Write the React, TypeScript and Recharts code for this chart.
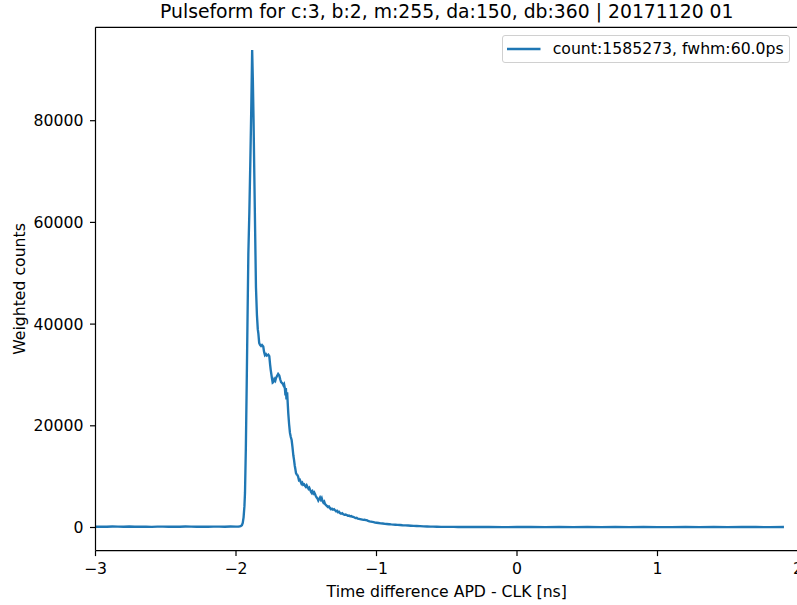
import React from 'react'
import { LineChart, Line, XAxis, YAxis, ReferenceLine, Legend } from 'recharts'

const FONT = '"DejaVu Sans", sans-serif'
const BLUE = '#1f77b4'
const FS = 15.7

// time bins [ns] and weighted counts
const times = [
  -3.0, -2.96, -2.92, -2.88, -2.84, -2.8, -2.76, -2.72, -2.68, -2.64, -2.6, -2.56, -2.52, -2.48, -2.44,
  -2.4, -2.36, -2.32, -2.28, -2.24, -2.2, -2.16, -2.12, -2.08, -2.04, -2.0, -1.98, -1.967, -1.958, -1.952,
  -1.946, -1.94, -1.936, -1.93, -1.924, -1.918, -1.912, -1.905, -1.898, -1.891, -1.885, -1.88, -1.875,
  -1.87, -1.865, -1.858, -1.851, -1.845, -1.841, -1.835, -1.829, -1.822, -1.815, -1.806, -1.8, -1.794,
  -1.787, -1.78, -1.77, -1.763, -1.757, -1.753, -1.745, -1.739, -1.734, -1.727, -1.72, -1.715, -1.708,
  -1.7, -1.692, -1.685, -1.679, -1.675, -1.668, -1.663, -1.658, -1.652, -1.648, -1.645, -1.641, -1.636,
  -1.632, -1.628, -1.622, -1.616, -1.61, -1.604, -1.598, -1.592, -1.587, -1.582, -1.577, -1.573, -1.567,
  -1.562, -1.557, -1.552, -1.546, -1.54, -1.534, -1.528, -1.522, -1.515, -1.509, -1.503, -1.497, -1.49,
  -1.484, -1.478, -1.472, -1.466, -1.461, -1.455, -1.449, -1.443, -1.438, -1.432, -1.426, -1.42, -1.414,
  -1.408, -1.402, -1.396, -1.39, -1.384, -1.378, -1.372, -1.366, -1.359, -1.352, -1.345, -1.338, -1.331,
  -1.324, -1.317, -1.31, -1.302, -1.295, -1.288, -1.281, -1.274, -1.267, -1.26, -1.252, -1.244, -1.236,
  -1.228, -1.22, -1.212, -1.204, -1.196, -1.188, -1.18, -1.172, -1.165, -1.157, -1.149, -1.141, -1.133,
  -1.125, -1.117, -1.109, -1.101, -1.093, -1.085, -1.077, -1.07, -1.06, -1.05, -1.04, -1.03, -1.02, -1.01,
  -0.999, -0.985, -0.97, -0.955, -0.94, -0.927, -0.91, -0.895, -0.88, -0.865, -0.85, -0.833, -0.815,
  -0.795, -0.775, -0.755, -0.735, -0.714, -0.69, -0.665, -0.64, -0.615, -0.598, -0.57, -0.54, -0.51,
  -0.48, -0.45, -0.42, -0.39, -0.358, -0.3, -0.2, -0.1, 0.0, 0.1, 0.2, 0.3, 0.4, 0.5, 0.6, 0.7, 0.8, 0.9,
  1.0, 1.1, 1.2, 1.3, 1.4, 1.5, 1.6, 1.7, 1.8, 1.9, 2.0,
]

const counts = [
  150, 170, 140, 190, 160, 150, 200, 140, 170, 150, 130, 180, 160, 140, 170,
  150, 190, 160, 140, 170, 150, 180, 160, 140, 190, 170, 200, 250, 450, 900,
  2000, 4200, 6800, 15500, 27700, 41000, 54000, 62000, 72000, 83000, 93900, 88000, 80000,
  70000, 60500, 47300, 41800, 39000, 38200, 36300, 35900, 35700, 35900, 35600, 34500, 33900,
  34100, 33800, 34000, 33700, 32000, 31000, 29500, 28500, 28600, 29200, 28900, 29400, 29800,
  30200, 29900, 29100, 28600, 28500, 28300, 28000, 28200, 27300, 26000, 27400, 25200, 26600,
  24500, 22500, 20300, 18600, 17800, 17200, 15800, 14200, 13300, 12200, 11400, 10700, 10400,
  10300, 9900, 9300, 9400, 9000, 8600, 8800, 8400, 8500, 8200, 8000, 8300, 7900,
  7600, 7800, 7400, 7000, 6800, 7100, 6700, 6900, 6600, 6200, 5900, 5700, 5300,
  5600, 5900, 5500, 5800, 5200, 4900, 5100, 4600, 4400, 4200, 4000, 4100, 3800,
  3600, 3700, 3500, 3600, 3400, 3200, 3300, 3000, 3100, 2850, 2700, 2800, 2600,
  2500, 2550, 2450, 2300, 2350, 2200, 2250, 2100, 2100, 1950, 1850, 1900, 1750,
  1700, 1650, 1600, 1550, 1500, 1520, 1450, 1450, 1300, 1200, 1150, 1100, 1050, 960,
  940, 880, 820, 790, 720, 690, 640, 600, 570, 540, 510, 490, 450,
  420, 390, 350, 320, 300, 260, 230, 200, 180, 160, 150, 130, 120,
  110, 120, 100, 110, 100, 90, 100, 80, 90, 100, 80, 90, 70, 90, 80, 100, 80, 90,
  80, 70, 90, 80, 90, 80, 100, 90, 80, 90,
]

const xTicks = [-3, -2, -1, 0, 1, 2]
const yTicks = [0, 20000, 40000, 60000, 80000]
const xDomain = [-3, 2]
const yDomain = [-4543, 98370]

const title = 'Pulseform for c:3, b:2, m:255, da:150, db:360 | 20171120 01'
const seriesName = 'count:1585273, fwhm:60.0ps'
const xLabel = 'Time difference APD - CLK [ns]'
const yLabel = 'Weighted counts'

const data = times.map((t, i) => ({ t, v: counts[i] }))

const minus = (v: number) => String(v).replace('-', '\u2212')

const tickStyle = { fill: '#000', fontSize: FS, fontFamily: FONT }

const LegendBox = () => (
  <div
    style={{
      boxSizing: 'border-box',
      width: 288,
      height: 27.5,
      border: '1px solid #d0d0d0',
      borderRadius: 3,
      background: '#fff',
      display: 'flex',
      alignItems: 'center',
      paddingLeft: 4.5,
      fontFamily: FONT,
      fontSize: FS,
      color: '#000',
      whiteSpace: 'nowrap',
    }}
  >
    <svg width={33.5} height={6} style={{ display: 'block' }}>
      <line x1={0} x2={33.5} y1={3} y2={3} stroke={BLUE} strokeWidth={2.35} />
    </svg>
    <span style={{ marginLeft: 12 }}>{seriesName}</span>
  </div>
)

const App: React.FC = () => {
  return (
    <div
      style={{
        position: 'absolute',
        left: 0,
        top: 0,
        width: 797,
        height: 605,
        overflow: 'hidden',
        background: '#fff',
      }}
    >
      <LineChart
        width={820}
        height={605}
        data={data}
        margin={{ top: 27.3, right: 22, bottom: 0, left: 0 }}
      >
        <XAxis
          dataKey="t"
          type="number"
          domain={xDomain}
          ticks={xTicks}
          interval={0}
          allowDataOverflow
          tickFormatter={minus}
          tick={tickStyle}
          tickLine={{ stroke: '#000', strokeWidth: 1.2 }}
          axisLine={{ stroke: '#000', strokeWidth: 1.2 }}
          tickSize={5.5}
          tickMargin={7}
          height={54.4}
          label={(props: any) => {
            const vb = props.viewBox
            return (
              <text
                x={vb.x + vb.width / 2}
                y={596.5}
                textAnchor="middle"
                fontFamily={FONT}
                fontSize={FS}
                fill="#000"
              >
                {xLabel}
              </text>
            )
          }}
        />
        <YAxis
          type="number"
          domain={yDomain}
          ticks={yTicks}
          interval={0}
          allowDataOverflow
          tick={tickStyle}
          tickLine={{ stroke: '#000', strokeWidth: 1.2 }}
          axisLine={{ stroke: '#000', strokeWidth: 1.2 }}
          tickSize={5.5}
          tickMargin={6.5}
          width={95.5}
          label={(props: any) => {
            const vb = props.viewBox
            const cy = vb.y + vb.height / 2
            return (
              <text
                x={19.5}
                y={cy}
                transform={`rotate(-90, 19.5, ${cy})`}
                textAnchor="middle"
                dominantBaseline="central"
                fontFamily={FONT}
                fontSize={FS}
                fill="#000"
              >
                {yLabel}
              </text>
            )
          }}
        />
        <ReferenceLine
          y={yDomain[1]}
          stroke="#000"
          strokeWidth={1.2}
          label={(props: any) => {
            const vb = props.viewBox
            return (
              <text
                x={vb.x + vb.width / 2}
                y={18}
                textAnchor="middle"
                fontFamily={FONT}
                fontSize={18.8}
                fill="#000"
              >
                {title}
              </text>
            )
          }}
        />
        <ReferenceLine x={xDomain[1]} stroke="#000" strokeWidth={1.2} />
        <Legend
          layout="horizontal"
          verticalAlign="middle"
          align="center"
          content={() => <LegendBox />}
          wrapperStyle={{ left: 501.7, top: 35, width: 288, height: 27.5 }}
        />
        <Line
          type="linear"
          dataKey="v"
          name={seriesName}
          stroke={BLUE}
          strokeWidth={2.35}
          dot={false}
          activeDot={false}
          isAnimationActive={false}
        />
      </LineChart>
    </div>
  )
}

export default App
